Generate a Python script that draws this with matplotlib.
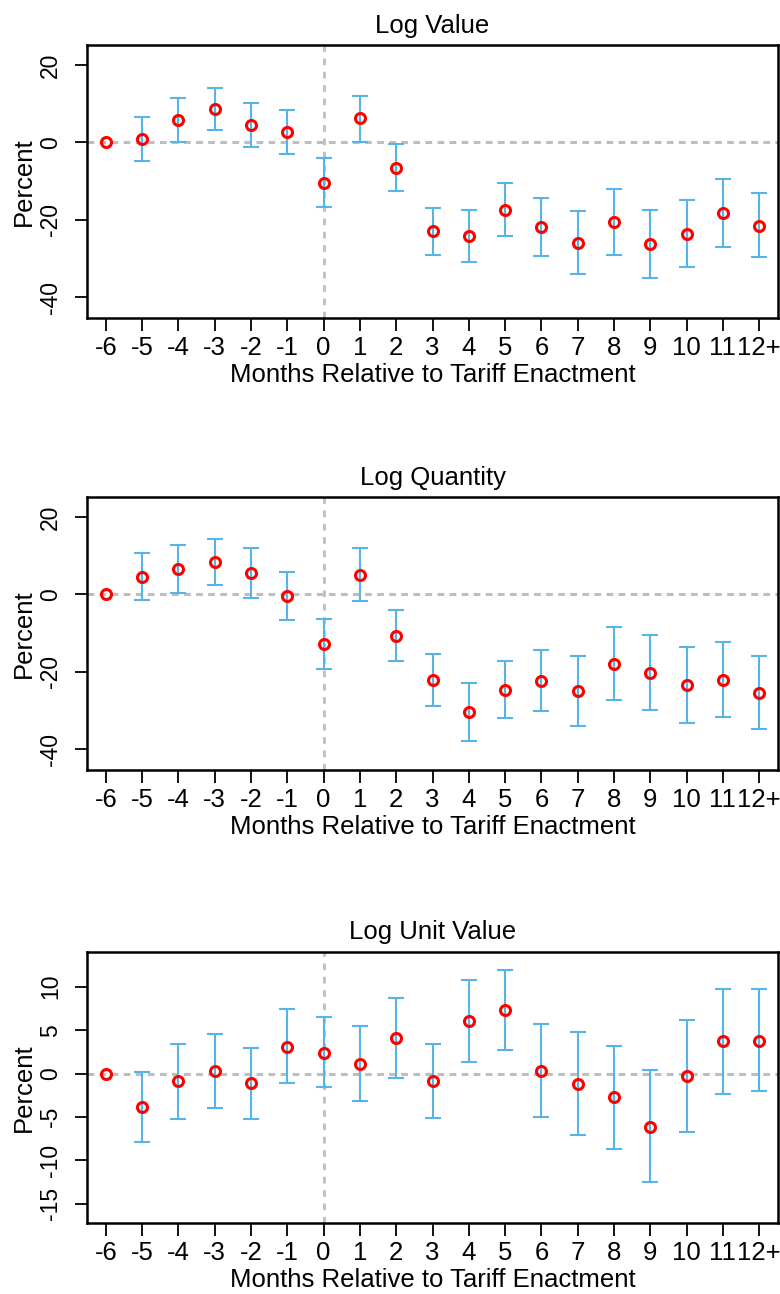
import numpy as np
import matplotlib
matplotlib.use("Agg")
import matplotlib.pyplot as plt
from matplotlib import rcParams

rcParams.update({'font.size': 18.5, 'font.family': ['Liberation Sans', 'DejaVu Sans']})

months = ['-6', '-5', '-4', '-3', '-2', '-1', '0', '1', '2', '3', '4', '5',
          '6', '7', '8', '9', '10', '11', '12+']

# log value
val_est = [0, 0.95, 5.8, 8.7, 4.4, 2.75, -10.4, 6.2, -6.5, -22.9, -24.2, -17.4,
           -21.9, -26.1, -20.5, -26.2, -23.6, -18.3, -21.5]
val_hi = [0, 6.6, 11.5, 14.1, 10.3, 8.5, -4.1, 12.1, -0.3, -16.9, -17.4, -10.5,
          -14.4, -17.8, -12.0, -17.4, -15.0, -9.5, -13.2]
val_lo = [0, -4.7, 0.0, 3.3, -1.3, -2.9, -16.6, 0.1, -12.6, -29.1, -31.0, -24.1,
          -29.4, -34.1, -29.1, -35.0, -32.2, -27.1, -29.7]

# log quantity
qty_est = [0, 4.6, 6.6, 8.3, 5.5, -0.3, -12.9, 5.1, -10.7, -22.1, -30.3, -24.6,
           -22.3, -25.0, -17.9, -20.2, -23.4, -22.0, -25.4]
qty_hi = [0, 10.8, 12.8, 14.3, 12.0, 5.9, -6.4, 11.9, -4.0, -15.5, -22.8, -17.3,
          -14.3, -15.8, -8.5, -10.4, -13.7, -12.4, -15.9]
qty_lo = [0, -1.5, 0.3, 2.5, -0.9, -6.7, -19.4, -1.7, -17.3, -28.9, -37.8, -32.0,
          -30.2, -34.0, -27.2, -29.9, -33.3, -31.6, -34.7]

# log unit value
uv_est = [0, -3.8, -0.9, 0.3, -1.1, 3.1, 2.4, 1.1, 4.1, -0.85, 6.0, 7.3,
          0.3, -1.2, -2.7, -6.1, -0.3, 3.7, 3.8]
uv_hi = [0, 0.23, 3.4, 4.6, 2.9, 7.4, 6.5, 5.5, 8.7, 3.4, 10.8, 11.9,
         5.7, 4.8, 3.2, 0.4, 6.2, 9.7, 9.7]
uv_lo = [0, -7.9, -5.2, -4.0, -5.2, -1.1, -1.6, -3.2, -0.5, -5.1, 1.3, 2.7,
         -5.0, -7.1, -8.7, -12.5, -6.7, -2.3, -2.0]

panels = [
    ('Log Value', val_est, val_lo, val_hi, (-45.4, 25.2), [-40, -20, 0, 20]),
    ('Log Quantity', qty_est, qty_lo, qty_hi, (-45.4, 25.2), [-40, -20, 0, 20]),
    ('Log Unit Value', uv_est, uv_lo, uv_hi, (-17.2, 14.0), [-15, -10, -5, 0, 5, 10]),
]
tops = [45, 497, 952]
bottoms = [318, 770, 1223]

W, H = 780, 1294
fig = plt.figure(figsize=(W / 100, H / 100), dpi=100)

x = np.arange(len(months))
for (title, est, lo, hi, ylim, yt), t, b in zip(panels, tops, bottoms):
    ax = fig.add_axes([87 / W, 1 - b / H, (778 - 87) / W, (b - t) / H])
    est = np.array(est)
    lo = np.array(lo)
    hi = np.array(hi)
    ok = hi > lo  # the base month has no interval
    ax.axhline(0, color='#BEBEBE', lw=2.2, ls=(0, (2.2, 1.75)), zorder=1)
    ax.axvline(months.index('0'), color='#BEBEBE', lw=2, ls=(0, (2.4, 2.4)), zorder=1)
    ax.errorbar(x[ok], est[ok], yerr=[est[ok] - lo[ok], hi[ok] - est[ok]], fmt='none',
                ecolor='#56B4E9', elinewidth=1.5, capsize=5.8, capthick=1.5, zorder=2)
    ax.plot(x, est, 'o', mfc='none', mec='red', ms=7.2, mew=2.2, zorder=3)
    ax.set_xlim(-0.52, len(months) - 0.48)
    ax.set_ylim(*ylim)
    ax.set_xticks(x)
    ax.set_xticklabels(months)
    ax.set_yticks(yt)
    ax.set_yticklabels([str(v) for v in yt], rotation=90, va='center', fontsize=16.5)
    ax.tick_params(length=9, width=1.3)
    ax.tick_params(axis='x', pad=4)
    ax.tick_params(axis='y', pad=9)
    for s in ax.spines.values():
        s.set_linewidth(1.8)
    ax.set_title(title, fontsize=18.5, pad=9)
    ax.set_xlabel('Months Relative to Tariff Enactment', labelpad=2)
    ax.set_ylabel('Percent', labelpad=2)

fig.savefig('out.png', dpi=100)
